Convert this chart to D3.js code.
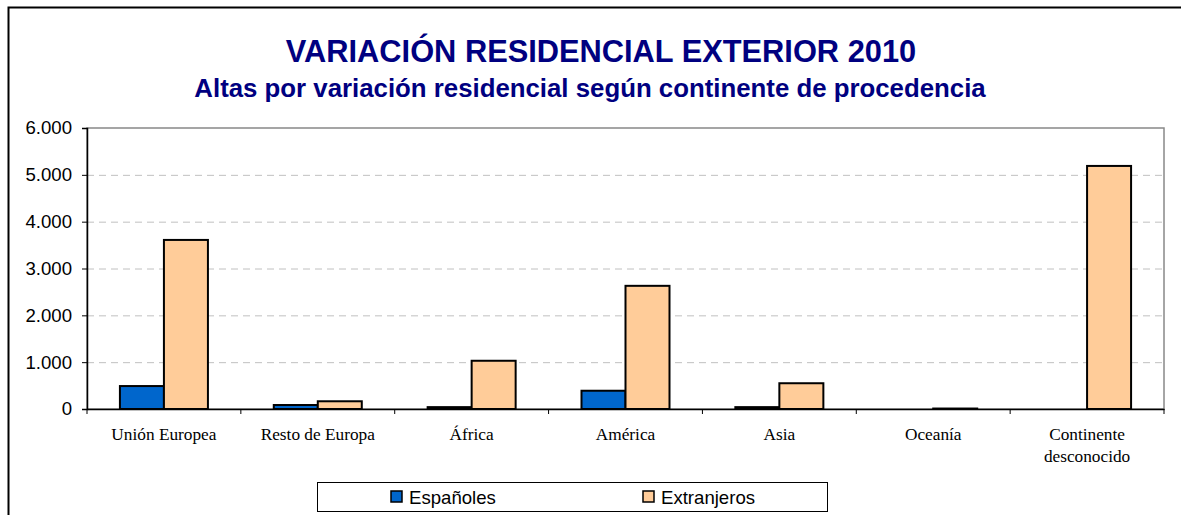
<!DOCTYPE html>
<html>
<head>
<meta charset="utf-8">
<script src="https://cdn.jsdelivr.net/npm/d3@7"></script>
<style>
  body { margin: 0; background: #fff; }
  svg { display: block; }
</style>
</head>
<body>
<svg id="chart"></svg>
<script>
var width = 1181;
var height = 515;

var categories = ["Unión Europea", "Resto de Europa", "África", "América", "Asia", "Oceanía", "Continente desconocido"];
var espanoles = [490, 85, 40, 390, 40, 0, 0];
var extranjeros = [3610, 165, 1030, 2630, 550, 10, 5190];
var seriesNames = ["Españoles", "Extranjeros"];
var yTicks = [0, 1000, 2000, 3000, 4000, 5000, 6000];

var colours = { "Españoles": "#0066cc", "Extranjeros": "#ffcc99" };

var plot = { left: 87, right: 1164, top: 128, bottom: 409 };

var svg = d3.select("#chart").attr("width", width).attr("height", height);

// outer frame (runs off right and bottom)
svg.append("rect")
    .attr("x", 8.5).attr("y", 7.5)
    .attr("width", 1200).attr("height", 600)
    .attr("fill", "none").attr("stroke", "#000").attr("stroke-width", 2);

// titles
svg.append("text")
    .text("VARIACIÓN RESIDENCIAL EXTERIOR 2010")
    .attr("x", 601).attr("y", 62)
    .attr("text-anchor", "middle")
    .attr("font-family", "Arial, 'Liberation Sans', sans-serif")
    .attr("font-weight", "bold").attr("font-size", 30.8)
    .attr("fill", "#000080");
svg.append("text")
    .text("Altas por variación residencial según continente de procedencia")
    .attr("x", 590).attr("y", 97)
    .attr("text-anchor", "middle")
    .attr("font-family", "Arial, 'Liberation Sans', sans-serif")
    .attr("font-weight", "bold").attr("font-size", 25.8)
    .attr("fill", "#000080");

var scaleX = d3.scaleBand().domain(categories).range([plot.left, plot.right]);
var scaleY = d3.scaleLinear().domain([0, 6000]).range([plot.bottom, plot.top]);
var groupPad = scaleX.bandwidth() * 0.214;
var scaleSub = d3.scaleBand().domain(seriesNames)
    .range([groupPad, scaleX.bandwidth() - groupPad]);

// plot area border (gray top/right)
svg.append("rect")
    .attr("x", plot.left).attr("y", plot.top)
    .attr("width", plot.right - plot.left).attr("height", plot.bottom - plot.top)
    .attr("fill", "none").attr("stroke", "#888").attr("stroke-width", 1.5);

// gridlines
svg.append("g").selectAll("line")
    .data(yTicks.filter(function(d) { return d > 0 && d < 6000; }))
    .enter().append("line")
    .attr("x1", plot.left).attr("x2", plot.right)
    .attr("y1", function(d) { return scaleY(d) + 0.5; })
    .attr("y2", function(d) { return scaleY(d) + 0.5; })
    .attr("stroke", "#c0c0c0").attr("stroke-dasharray", "7,5");

// bars
var rows = [];
categories.forEach(function(c, i) {
    rows.push({ cat: c, series: "Españoles", value: espanoles[i] });
    rows.push({ cat: c, series: "Extranjeros", value: extranjeros[i] });
});

svg.append("g").selectAll("rect")
    .data(rows.filter(function(d) { return d.value > 0; }))
    .enter().append("rect")
    .attr("x", function(d) { return scaleX(d.cat) + scaleSub(d.series); })
    .attr("y", function(d) { return scaleY(d.value); })
    .attr("width", scaleSub.bandwidth())
    .attr("height", function(d) { return plot.bottom - scaleY(d.value); })
    .attr("fill", function(d) { return colours[d.series]; })
    .attr("stroke", "#000").attr("stroke-width", 2);

// y axis
var axisY = d3.axisLeft(scaleY).tickValues(yTicks).tickSize(5)
    .tickFormat(function(d) { return d === 0 ? "0" : d3.format(",")(d).replace(/,/g, "."); });
var gy = svg.append("g")
    .attr("transform", "translate(" + plot.left + ",0)")
    .call(axisY);
gy.select(".domain").attr("stroke", "#000").attr("stroke-width", 1.5);
gy.selectAll(".tick line").attr("stroke", "#000");
gy.selectAll(".tick text")
    .attr("font-family", "Arial, 'Liberation Sans', sans-serif")
    .attr("font-size", 18.6).attr("fill", "#000").attr("x", -15);

// x axis
var axisX = d3.axisBottom(scaleX).tickSize(0).tickFormat("");
var gx = svg.append("g")
    .attr("transform", "translate(0," + plot.bottom + ")")
    .call(axisX);
gx.select(".domain").attr("stroke", "#000").attr("stroke-width", 1.5);
gx.selectAll(".catTick")
    .data(categories.concat(["end"]))
    .enter().append("line")
    .attr("x1", function(d, i) { return i < categories.length ? scaleX(d) : plot.right; })
    .attr("x2", function(d, i) { return i < categories.length ? scaleX(d) : plot.right; })
    .attr("y1", 0).attr("y2", 5)
    .attr("stroke", "#000");

var labels = svg.append("g").selectAll("text")
    .data(categories).enter().append("text")
    .attr("text-anchor", "middle")
    .attr("font-family", "'Times New Roman', 'Liberation Serif', serif")
    .attr("font-size", 17.3).attr("fill", "#000");
labels.each(function(d) {
    var words = d === "Continente desconocido" ? ["Continente", "desconocido"] : [d];
    var t = d3.select(this);
    words.forEach(function(w, k) {
        t.append("tspan")
            .attr("x", scaleX(d) + scaleX.bandwidth() / 2)
            .attr("y", 440 + k * 22)
            .text(w);
    });
});

// legend
var legend = svg.append("g");
legend.append("rect")
    .attr("x", 317.5).attr("y", 482.5).attr("width", 510).attr("height", 29)
    .attr("fill", "#fff").attr("stroke", "#000").attr("stroke-width", 1);
var legendX = [391, 643];
seriesNames.forEach(function(s, i) {
    legend.append("rect")
        .attr("x", legendX[i]).attr("y", 491)
        .attr("width", 11).attr("height", 11)
        .attr("fill", colours[s]).attr("stroke", "#000").attr("stroke-width", 1.5);
    legend.append("text")
        .text(s)
        .attr("x", legendX[i] + 18).attr("y", 503.5)
        .attr("font-family", "Arial, 'Liberation Sans', sans-serif")
        .attr("font-size", 18.6).attr("fill", "#000");
});
</script>
</body>
</html>
